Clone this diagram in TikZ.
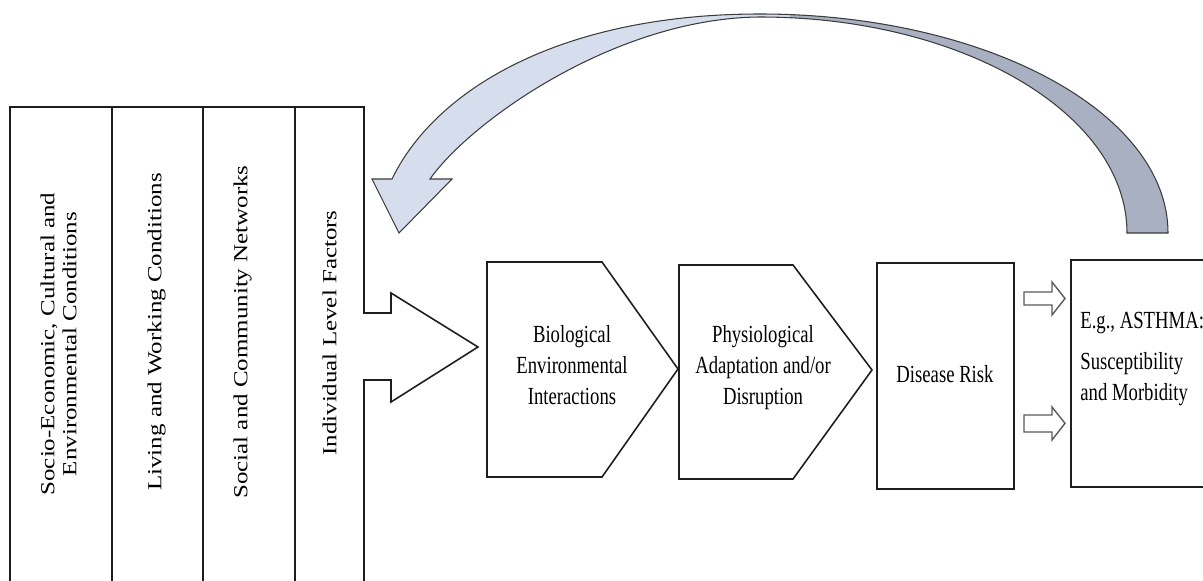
\documentclass[tikz,border=0pt]{standalone}
\usepackage{fontspec}
\setmainfont{Liberation Serif}
\usepackage{graphicx}

\definecolor{inkline}{HTML}{1E1E1E}
\definecolor{arclight}{HTML}{D6DEEE}
\definecolor{arcdark}{HTML}{A8B0C2}
\definecolor{arcedge}{HTML}{3C3C3C}
\definecolor{smalledge}{HTML}{5A5A5A}

% narrow upright labels and rotated column labels
\newcommand\uprightlabel[1]{\scalebox{0.76}[1]{\begin{tabular}[t]{@{}c@{}}#1\end{tabular}}}
\newcommand\sidelabel[1]{\rotatebox{90}{\scalebox{1}[0.8]{\begin{tabular}{@{}c@{}}#1\end{tabular}}}}

\begin{document}
\begin{tikzpicture}[x=0.02cm,y=-0.02cm,
  frame/.style={draw=inkline, line width=0.9pt, line join=miter},
  uptext/.style={font=\fontsize{14}{17.9}\selectfont, inner sep=0pt, anchor=base},
  sidetext/.style={font=\fontsize{14.2}{15.6}\selectfont, inner sep=0pt},
  smallarrow/.style={draw=smalledge, fill=white, line width=0.8pt, line join=miter},
  bandedge/.style={draw=arcedge, line width=0.6pt, line join=miter}]
\useasboundingbox (0,0) rectangle (1203,581);
\clip (0,0) rectangle (1203,581);

% levels of influence, with the outlet arrow on the right side
\coordinate (panelNW) at (10,107);
\coordinate (panelNE) at (364,107);
\coordinate (outTip) at (478,347);
\draw[frame] (10,600) -- (panelNW) -- (panelNE) -- (364,313) -- (391,313) -- (391,293)
  -- (outTip) -- (391,402) -- (391,380) -- (364,380) -- (364,600);
\foreach \x in {112,203,295} \draw[frame] (\x,107) -- (\x,600);

\node[sidetext] (sdoh)   at (61,344)  {\sidelabel{Socio-Economic, Cultural and\\Environmental Conditions}};
\node[sidetext] (living) at (157,332) {\sidelabel{Living and Working Conditions}};
\node[sidetext] (social) at (243,332) {\sidelabel{Social and Community Networks}};
\node[sidetext] (indiv)  at (332,333) {\sidelabel{Individual Level Factors}};

% chain of stages
\draw[frame] (487,262) -- (602,262) -- (678,369) -- (602,477) -- (487,477) -- cycle;
\draw[frame] (679,265) -- (793,265) -- (872,370) -- (793,479) -- (679,479) -- cycle;
\draw[frame] (877,263) rectangle (1014,489);
\draw[frame] (1071,260) rectangle (1220,487);

\node[uptext] (bio)    at (572,342) {\uprightlabel{Biological\\Environmental\\Interactions}};
\node[uptext] (physio) at (763,342) {\uprightlabel{Physiological\\Adaptation and/or\\Disruption}};
\node[uptext] (risk)   at (945,382) {\uprightlabel{Disease Risk}};
\node[uptext, anchor=base west] (asthma) at (1080,328)
  {\scalebox{0.76}[1]{\begin{tabular}[t]{@{}l@{}}E.g., ASTHMA:\\[5.5pt]Susceptibility\\and Morbidity\end{tabular}}};

% two small block arrows into the outcome box
\coordinate (upTail) at (1024,298.5);
\coordinate (upTip)  at (1065,298.5);
\draw[smallarrow] (upTail |- 0,292) -- (1052,292) -- (1052,282) -- (upTip)
  -- (1052,315) -- (1052,305) -- (upTail |- 0,305) -- cycle;
\coordinate (lowTail) at (1024,423.3);
\coordinate (lowTip)  at (1065,423.3);
\draw[smallarrow] (lowTail |- 0,415) -- (1052,415) -- (1052,407) -- (lowTip)
  -- (1052,440) -- (1052,432) -- (lowTail |- 0,432) -- cycle;

% feedback band from the outcome back to the individual level
\coordinate (bandOuterFoot) at (1168,233);
\coordinate (bandInnerFoot) at (1127,233);
\coordinate (headTip) at (399,233);
\path[save path=\bandpath]
  (bandOuterFoot) .. controls (1168,112) and (985,14) .. (760,14)
  .. controls (560,14) and (435,90) .. (392,179)
  -- (372,179) -- (headTip) -- (452,179) -- (430,179)
  .. controls (470,122) and (615,18) .. (760,17)
  .. controls (963,17) and (1127,114) .. (bandInnerFoot) -- cycle;
\fill[arclight, use path=\bandpath];
\begin{scope}
  \clip (790,0) rectangle (1203,300);
  \fill[arcdark, use path=\bandpath];
\end{scope}
\draw[bandedge, use path=\bandpath];
\end{tikzpicture}
\end{document}
